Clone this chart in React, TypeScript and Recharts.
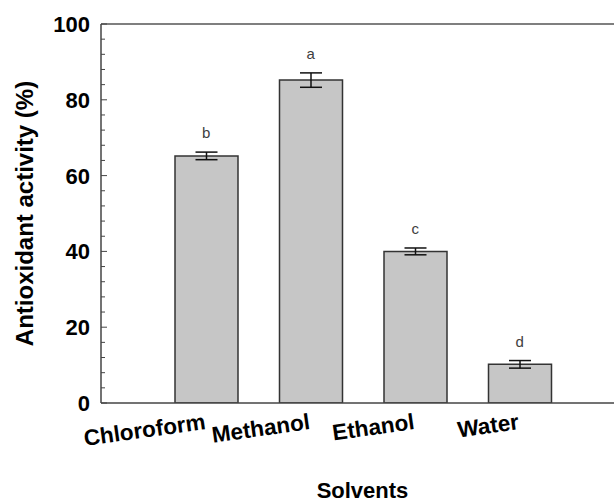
import React from 'react';
import {
    ComposedChart,
    Bar,
    Line,
    XAxis,
    YAxis,
    ErrorBar,
    LabelList,
    ReferenceLine,
} from 'recharts';

const solvents = ['Chloroform', 'Methanol', 'Ethanol', 'Water'];
const activity = [65.2, 85.2, 40.0, 10.2];
const activityErr = [1.0, 1.9, 0.9, 1.0];
const groupLetters = ['b', 'a', 'c', 'd'];

const yTicks = [0, 4, 8, 12, 16, 20, 24, 28, 32, 36, 40, 44, 48, 52, 56, 60, 64, 68, 72, 76, 80, 84, 88, 92, 96, 100];
const yLabelTicks = [0, 20, 40, 60, 80, 100];

const data = solvents.map((name, i) => ({
    name,
    value: activity[i],
    err: activityErr[i],
    top: activity[i] + activityErr[i],
    letter: groupLetters[i],
}));

const FONT = '"Liberation Sans", Arial, sans-serif';
const AXIS_COLOR = '#444';
const Y_TICK_MARGIN = 11;

const YTick = (props: any) => {
    const { x, y, payload } = props;
    const axisX = x + Y_TICK_MARGIN;
    const major = yLabelTicks.includes(payload.value);
    return (
        <g>
            <line x1={axisX} x2={axisX + (major ? 6 : 4)} y1={y} y2={y} stroke={AXIS_COLOR} strokeWidth={1} />
            {major && (
                <text x={x} y={y} dy="0.36em" textAnchor="end" fontFamily={FONT} fontWeight="bold" fontSize={22} fill="#000">
                    {payload.value}
                </text>
            )}
        </g>
    );
};

const XTick = (props: any) => {
    const { x, y, payload } = props;
    const ty = y + 26;
    return (
        <text
            x={x}
            y={ty}
            textAnchor="end"
            transform={`rotate(-8, ${x}, ${ty})`}
            fontFamily={FONT}
            fontWeight="bold"
            fontSize={22.5}
            fill="#000"
        >
            {payload.value}
        </text>
    );
};

const YLabel = (props: any) => {
    const { viewBox } = props;
    const cx = viewBox.x + 33;
    const cy = viewBox.y + viewBox.height / 2;
    return (
        <text
            x={cx}
            y={cy}
            transform={`rotate(-90, ${cx}, ${cy})`}
            textAnchor="middle"
            fontFamily={FONT}
            fontWeight="bold"
            fontSize={24}
            fill="#000"
        >
            Antioxidant activity (%)
        </text>
    );
};

export default function App() {
    return (
        <div style={{ position: 'absolute', left: 0, top: 0, width: 614, height: 502, overflow: 'hidden', background: '#fff' }}>
            <ComposedChart
                width={640}
                height={502}
                data={data}
                margin={{ top: 24, right: 16, bottom: 0, left: 0 }}
            >
                <XAxis
                    dataKey="name"
                    height={99}
                    padding={{ left: 53, right: 52 }}
                    tickLine={false}
                    tickSize={0}
                    tickMargin={0}
                    axisLine={{ stroke: AXIS_COLOR, strokeWidth: 1.5 }}
                    tick={<XTick />}
                    interval={0}
                    label={{
                        value: 'Solvents',
                        position: 'insideBottom',
                        offset: 4,
                        fontFamily: FONT,
                        fontWeight: 'bold',
                        fontSize: 22,
                        fill: '#000',
                    }}
                />
                <YAxis
                    width={101}
                    domain={[0, 100]}
                    ticks={yTicks}
                    interval={0}
                    tickLine={false}
                    tickSize={0}
                    tickMargin={Y_TICK_MARGIN}
                    axisLine={{ stroke: AXIS_COLOR, strokeWidth: 1.5 }}
                    tick={<YTick />}
                    allowDataOverflow
                    label={<YLabel />}
                />
                <ReferenceLine y={100} stroke="#555" strokeWidth={1.5} />
                <Bar
                    dataKey="value"
                    fill="#c6c6c6"
                    stroke="#333"
                    strokeWidth={1.5}
                    barSize={63}
                    isAnimationActive={false}
                >
                    <ErrorBar dataKey="err" width={11} stroke="#111" strokeWidth={1.5} />
                </Bar>
                <Line
                    dataKey="top"
                    stroke="none"
                    dot={false}
                    activeDot={false}
                    legendType="none"
                    isAnimationActive={false}
                >
                    <LabelList
                        dataKey="letter"
                        position="top"
                        offset={14}
                        fontFamily={FONT}
                        fontSize={15}
                        fill="#404040"
                    />
                </Line>
            </ComposedChart>
        </div>
    );
}
